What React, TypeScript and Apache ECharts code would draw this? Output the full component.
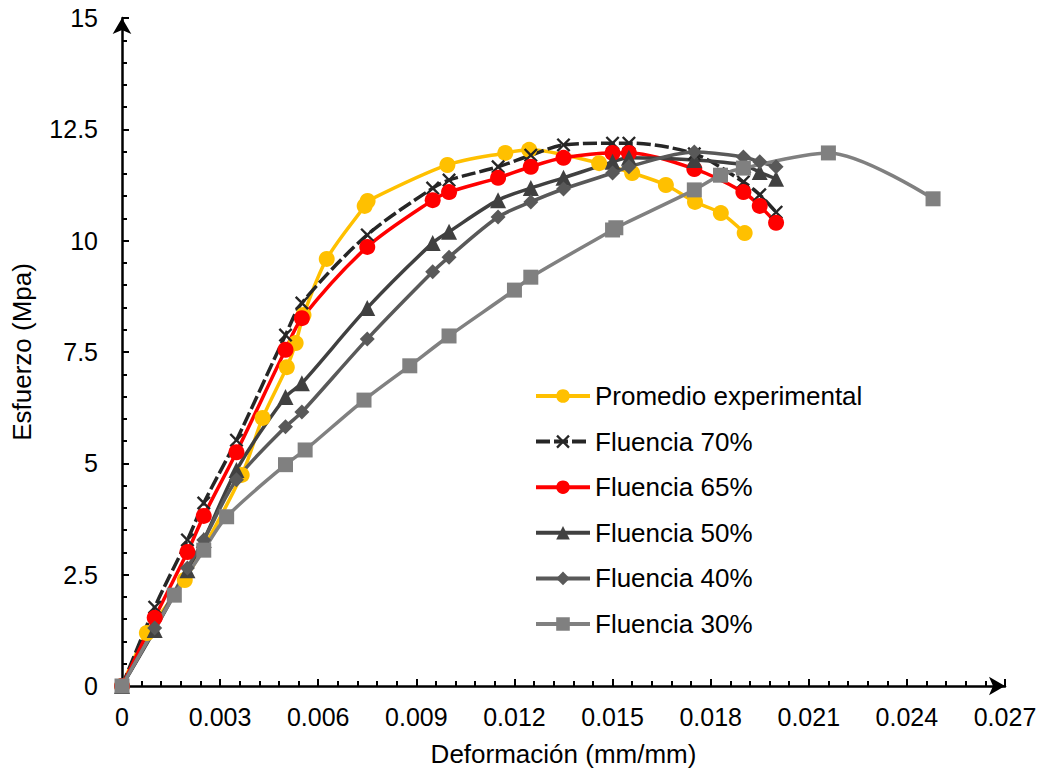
import React, { useEffect, useRef } from "react";
import * as echarts from "echarts";

// Strain (mm/mm) and stress (MPa) values
const promedioX = [0, 0.00076, 0.00192, 0.00366, 0.0043, 0.00504, 0.00531, 0.00555, 0.00626, 0.00742, 0.00751, 0.00995, 0.01172, 0.01245, 0.01459, 0.0156, 0.01663, 0.01752, 0.01831, 0.01904];
const promedioY = [0, 1.19, 2.38, 4.74, 6.02, 7.16, 7.7, 8.33, 9.59, 10.78, 10.89, 11.7, 11.97, 12.04, 11.74, 11.52, 11.25, 10.87, 10.62, 10.17];

const fluenciaX = [0, 0.001, 0.002, 0.0025, 0.0035, 0.005, 0.0055, 0.0075, 0.0095, 0.01, 0.0115, 0.0125, 0.0135, 0.015, 0.0155, 0.0175, 0.019, 0.0195, 0.02];
const fluencia70Y = [0, 1.77, 3.28, 4.11, 5.52, 7.88, 8.6, 10.13, 11.18, 11.36, 11.66, 11.92, 12.15, 12.19, 12.19, 11.95, 11.32, 11.03, 10.64];
const fluencia65Y = [0, 1.53, 3.01, 3.82, 5.25, 7.55, 8.26, 9.86, 10.91, 11.09, 11.41, 11.66, 11.86, 11.97, 11.97, 11.61, 11.09, 10.78, 10.4];
const fluencia50Y = [0, 1.26, 2.6, 3.28, 4.85, 6.49, 6.8, 8.49, 9.95, 10.2, 10.91, 11.18, 11.41, 11.77, 11.86, 11.81, 11.7, 11.54, 11.39];
const fluencia40Y = [0, 1.3, 2.65, 3.28, 4.63, 5.82, 6.15, 7.79, 9.3, 9.63, 10.53, 10.87, 11.16, 11.52, 11.66, 11.99, 11.88, 11.77, 11.66];

const fluencia30X = [0, 0.0016, 0.0025, 0.0032, 0.005, 0.0056, 0.0074, 0.0088, 0.01, 0.012, 0.0125, 0.015, 0.0151, 0.0175, 0.0183, 0.019, 0.0216, 0.0248];
const fluencia30Y = [0, 2.04, 3.05, 3.8, 4.97, 5.3, 6.42, 7.19, 7.86, 8.89, 9.18, 10.24, 10.29, 11.14, 11.47, 11.63, 11.97, 10.94];

const seriesNames = ["Promedio experimental", "Fluencia 70%", "Fluencia 65%", "Fluencia 50%", "Fluencia 40%", "Fluencia 30%"];

const FONT = "'Liberation Sans', Arial, Helvetica, sans-serif";
const CROSS = "path://M0,1.2L1.2,0L5,3.8L8.8,0L10,1.2L6.2,5L10,8.8L8.8,10L5,6.2L1.2,10L0,8.8L3.8,5Z";

const zip = (xs: number[], ys: number[]) => xs.map((x, i) => [x, ys[i]]);

export default function App() {
  const ref = useRef<HTMLDivElement>(null);
  useEffect(() => {
    const chart = echarts.init(ref.current!, null, { renderer: "svg" });
    const mk = (name: string, data: number[][], color: string, symbol: string, size: number, lineExtra: any = {}) => ({
      name,
      type: "line",
      data,
      smooth: 0.3,
      symbol,
      symbolSize: size,
      showAllSymbol: true,
      itemStyle: { color },
      lineStyle: { color, width: 3.5, ...lineExtra },
      emphasis: { disabled: true },
    });
    const axisLine = {
      show: true,
      lineStyle: { color: "#000", width: 2.5 },
      symbol: ["none", "arrow"],
      symbolSize: [14, 16],
      symbolOffset: [0, 0],
    };
    chart.setOption({
      animation: false,
      backgroundColor: "#fff",
      textStyle: { fontFamily: FONT },
      grid: { left: 122, right: 45, top: 18, bottom: 87, containLabel: false },
      legend: {
        orient: "vertical",
        left: 534,
        top: 383,
        padding: 0,
        itemWidth: 54,
        itemHeight: 17,
        itemGap: 19.6,
        data: seriesNames,
        lineStyle: { width: 4 },
        textStyle: { fontSize: 26, color: "#000", fontFamily: FONT, lineHeight: 26 },
      },
      xAxis: {
        type: "value",
        min: 0,
        max: 0.027,
        interval: 0.003,
        name: "Deformación (mm/mm)",
        nameLocation: "middle",
        nameGap: 55,
        nameTextStyle: { fontSize: 26, color: "#000", fontFamily: FONT },
        axisLine,
        axisTick: { show: true, inside: true, length: 7, lineStyle: { color: "#000", width: 2 } },
        minorTick: { show: true, splitNumber: 5, length: 5, lineStyle: { color: "#000", width: 2 } },
        axisLabel: {
          fontSize: 25,
          color: "#000",
          margin: 18,
          fontFamily: FONT,
          formatter: (v: number) => (v === 0 ? "0" : v.toFixed(3)),
        },
        splitLine: { show: false },
      },
      yAxis: {
        type: "value",
        min: 0,
        max: 15,
        interval: 2.5,
        name: "Esfuerzo (Mpa)",
        nameLocation: "middle",
        nameGap: 87,
        nameTextStyle: { fontSize: 26, color: "#000", fontFamily: FONT },
        axisLine,
        axisTick: { show: true, inside: true, length: 7, lineStyle: { color: "#000", width: 2 } },
        minorTick: { show: true, splitNumber: 5, length: 5, lineStyle: { color: "#000", width: 2 } },
        axisLabel: { fontSize: 25, color: "#000", margin: 24, fontFamily: FONT },
        splitLine: { show: false },
      },
      series: [
        mk(seriesNames[0], zip(promedioX, promedioY), "#FFC000", "circle", 16),
        mk(seriesNames[1], zip(fluenciaX, fluencia70Y), "#262626", CROSS, 14, { type: [14, 4] }),
        mk(seriesNames[2], zip(fluenciaX, fluencia65Y), "#FF0000", "circle", 16),
        mk(seriesNames[3], zip(fluenciaX, fluencia50Y), "#404040", "triangle", 16),
        mk(seriesNames[4], zip(fluenciaX, fluencia40Y), "#595959", "diamond", 15),
        mk(seriesNames[5], zip(fluencia30X, fluencia30Y), "#808080", "rect", 15),
      ],
    });
    return () => chart.dispose();
  }, []);
  return <div ref={ref} style={{ position: "absolute", left: 0, top: 0, width: 1050, height: 773 }} />;
}
